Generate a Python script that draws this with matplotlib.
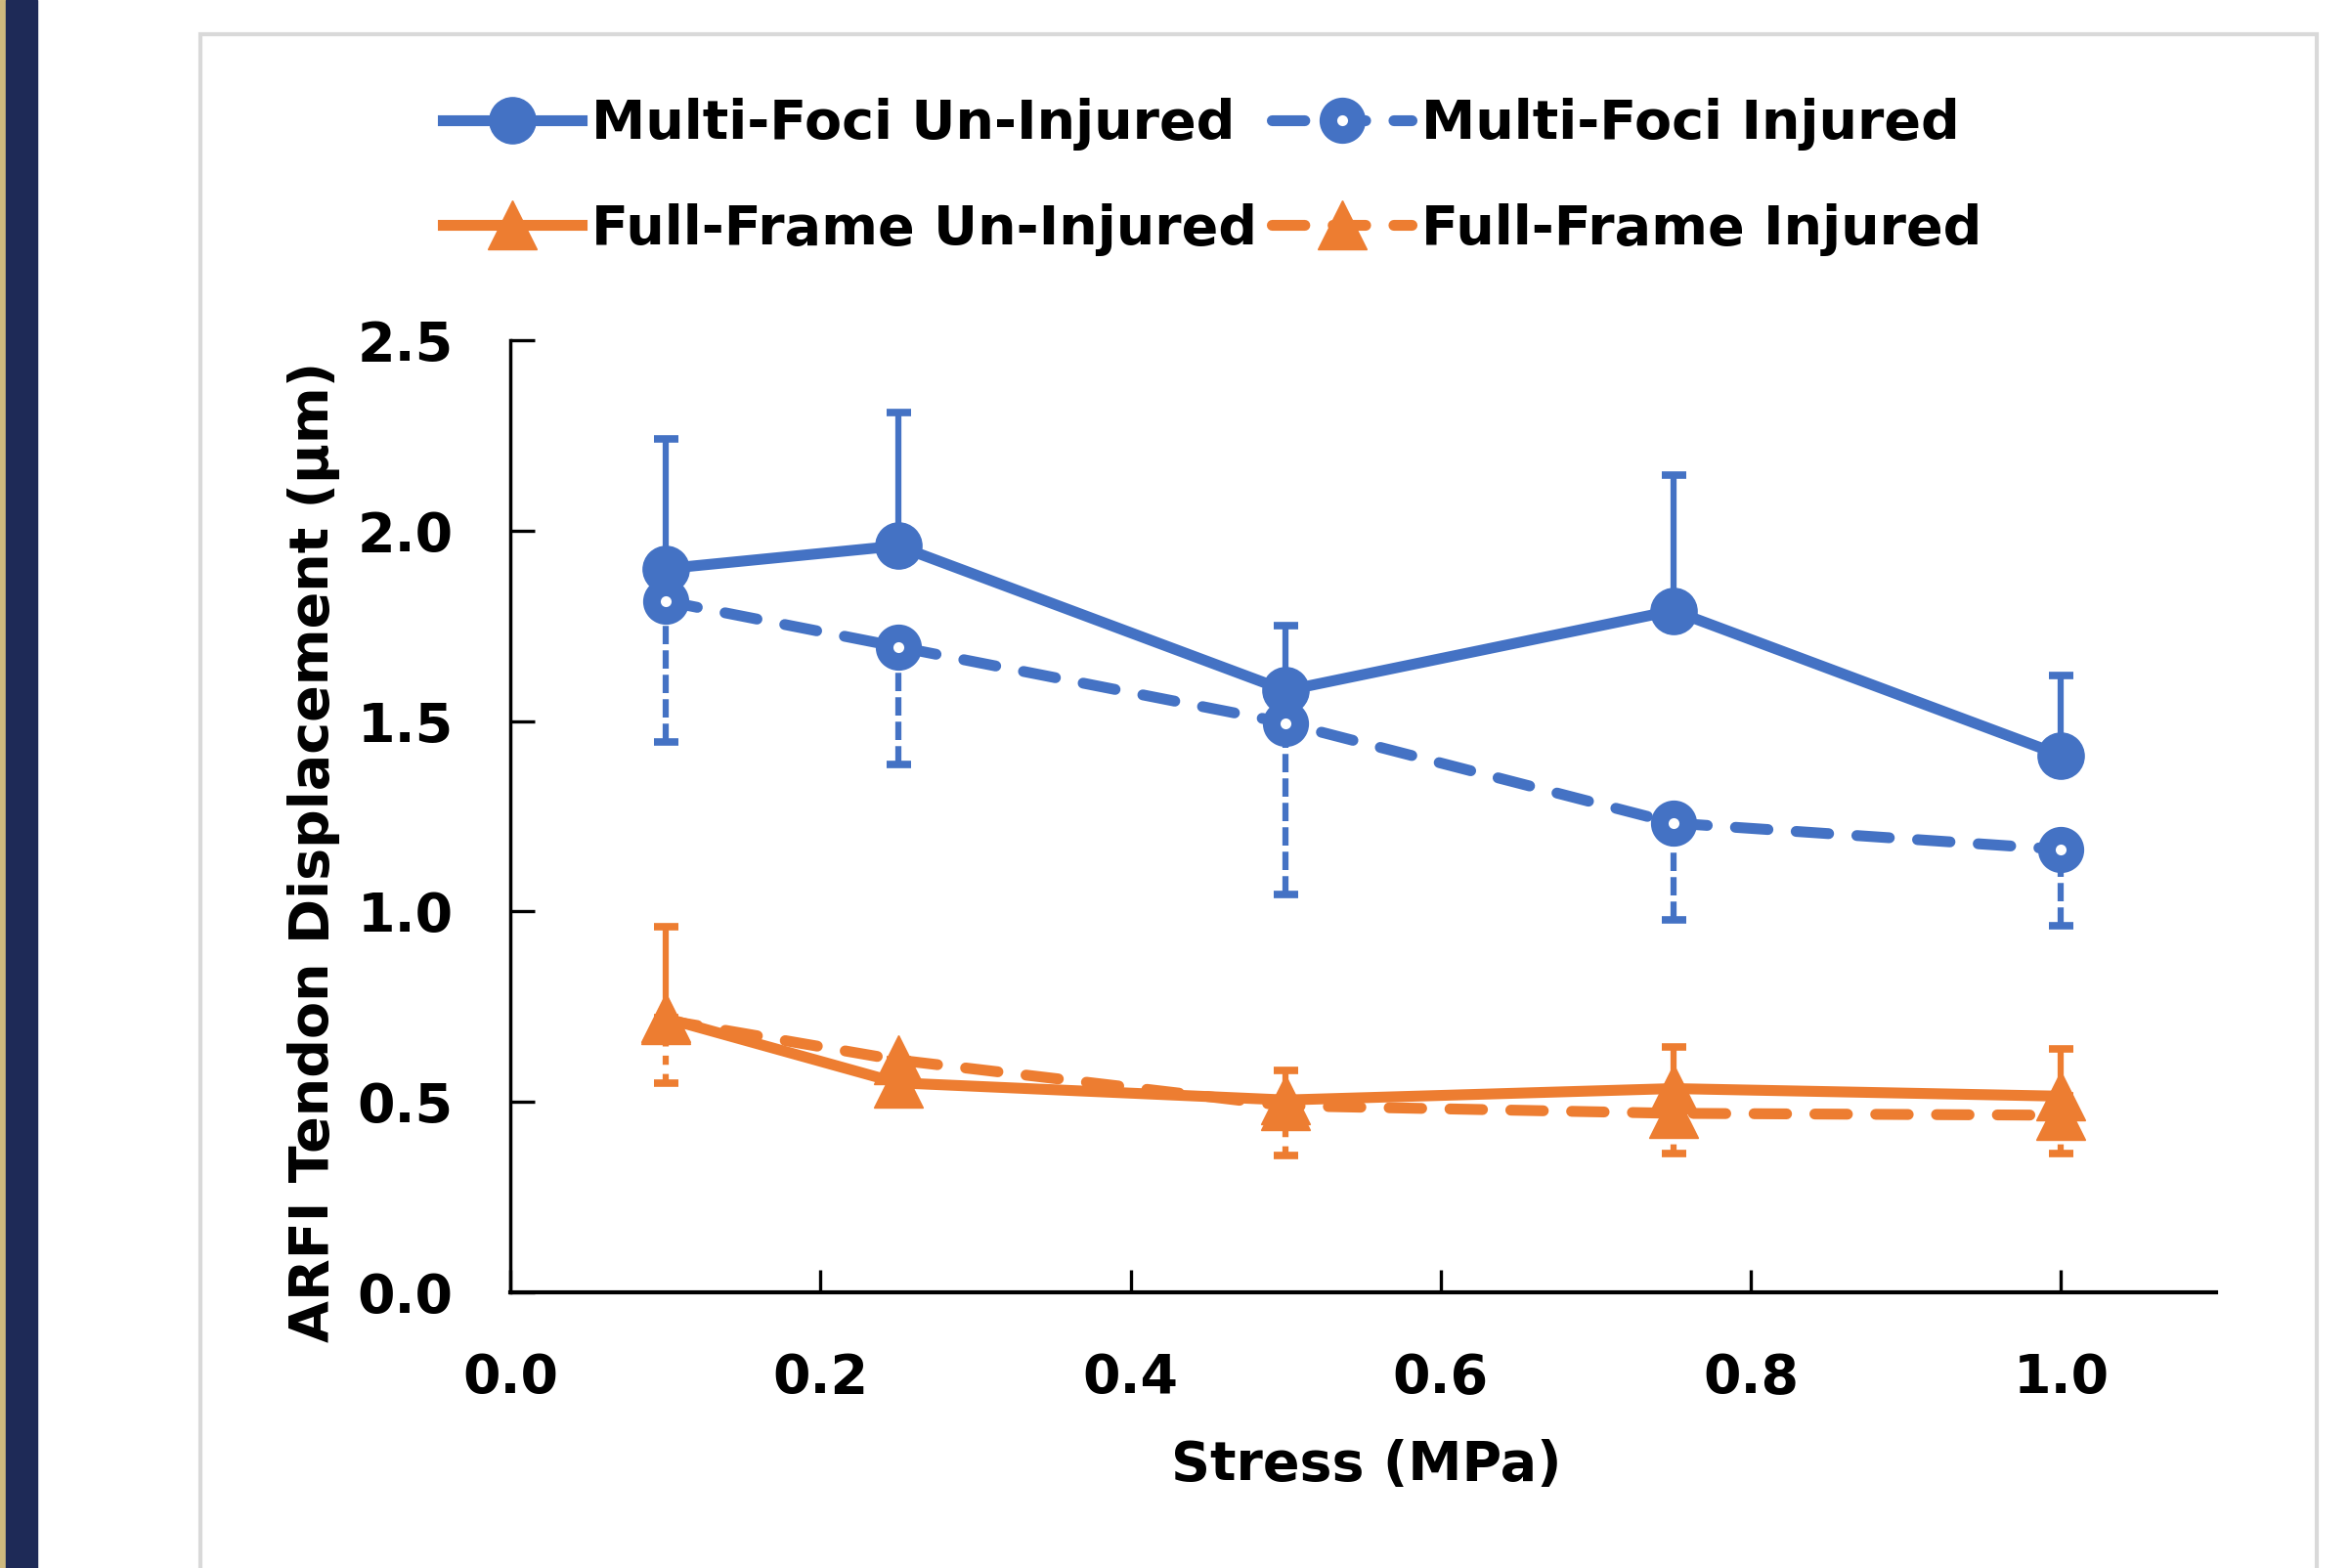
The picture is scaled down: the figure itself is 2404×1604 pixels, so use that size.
# ARFI tendon displacement vs stress, one-sided error bars

import matplotlib.pyplot as plt
from matplotlib.patches import Rectangle
from matplotlib.ticker import FormatStrFormatter

plt.rcParams['font.family'] = ['DejaVu Sans']
plt.rcParams['font.weight'] = 'bold'

stress = [0.1, 0.25, 0.5, 0.75, 1.0]

mf_un = [1.90, 1.96, 1.58, 1.79, 1.41]
mf_un_err = [0.34, 0.35, 0.17, 0.355, 0.21]
mf_inj = [1.815, 1.695, 1.495, 1.232, 1.163]
mf_inj_err = [0.37, 0.31, 0.45, 0.255, 0.20]
ff_un = [0.72, 0.55, 0.505, 0.535, 0.515]
ff_un_err = [0.24, 0.03, 0.078, 0.11, 0.124]
ff_inj = [0.715, 0.61, 0.49, 0.47, 0.465]
ff_inj_err = [0.166, 0.03, 0.13, 0.106, 0.10]

labels = ['Multi-Foci Un-Injured', 'Multi-Foci Injured',
          'Full-Frame Un-Injured', 'Full-Frame Injured']

blue = '#4472C4'
orange = '#ED7D31'
fs = 40
lw = 8

fig = plt.figure(figsize=(24.04, 16.04), dpi=100)
W, H = 2404, 1604

# page decoration: side stripes and light frame
fig.patches.append(Rectangle((0, 0), 6 / W, 1, transform=fig.transFigure,
                             color='#CEB97E', zorder=0))
fig.patches.append(Rectangle((6 / W, 0), 32 / W, 1, transform=fig.transFigure,
                             color='#1E2A57', zorder=0))
fig.patches.append(Rectangle((205 / W, -0.05), (2370 - 205) / W,
                             1.05 - 35 / H, transform=fig.transFigure,
                             fill=False, edgecolor='#D9D9D9', linewidth=3,
                             zorder=0))

ax = fig.add_axes([522 / W, (H - 1322) / H, 1745 / W, 974 / H])

zeros = [0] * len(stress)

# error bars first (one-sided), markers/lines drawn on top
ax.errorbar(stress, mf_un, yerr=[zeros, mf_un_err], fmt='none',
            ecolor=blue, elinewidth=4.5, capsize=9, capthick=5.5, zorder=2)
eb = ax.errorbar(stress, mf_inj, yerr=[mf_inj_err, zeros], fmt='none',
                 ecolor=blue, elinewidth=4.5, capsize=9, capthick=5.5,
                 zorder=2)
eb[2][0].set_linestyle((0, (3, 1)))
ax.errorbar(stress, ff_un, yerr=[zeros, ff_un_err], fmt='none',
            ecolor=orange, elinewidth=4.5, capsize=9, capthick=5.5, zorder=2)
eb = ax.errorbar(stress, ff_inj, yerr=[ff_inj_err, zeros], fmt='none',
                 ecolor=orange, elinewidth=4.5, capsize=9, capthick=5.5,
                 zorder=2)
eb[2][0].set_linestyle((0, (1.5, 1.5)))

dash = (3.0, 2.6)
h1, = ax.plot(stress, mf_inj, color=blue, linewidth=lw, dashes=dash,
              dash_capstyle='round', marker='o', markersize=21,
              markerfacecolor='white', markeredgecolor=blue,
              markeredgewidth=13, zorder=3, label=labels[1])
h0, = ax.plot(stress, mf_un, color=blue, linewidth=lw, marker='o',
              markersize=34, zorder=4, label=labels[0])
h2, = ax.plot(stress, ff_un, color=orange, linewidth=lw, marker='^',
              markersize=36, zorder=3, label=labels[2])
h3, = ax.plot(stress, ff_inj, color=orange, linewidth=lw, dashes=dash,
              dash_capstyle='round', marker='^', markersize=36,
              zorder=4, label=labels[3])

ax.set_xlim(0, 1.1)
ax.set_ylim(0, 2.5)
ax.set_xticks([0.0, 0.2, 0.4, 0.6, 0.8, 1.0])
ax.set_yticks([0.0, 0.5, 1.0, 1.5, 2.0, 2.5])
ax.xaxis.set_major_formatter(FormatStrFormatter('%.1f'))
ax.yaxis.set_major_formatter(FormatStrFormatter('%.1f'))

for s in ['top', 'right']:
    ax.spines[s].set_visible(False)
ax.spines['left'].set_linewidth(2.5)
ax.spines['bottom'].set_linewidth(3)
ax.tick_params(axis='x', direction='in', length=16.5, width=2.4,
               pad=44, labelsize=fs)
ax.tick_params(axis='y', direction='in', length=18, width=2.4,
               pad=42, labelsize=fs)
for t in ax.get_xticklabels() + ax.get_yticklabels():
    t.set_fontweight('bold')

ax.set_xlabel('Stress (MPa)', fontsize=fs, fontweight='bold')
ax.set_ylabel('ARFI Tendon Displacement (μm)', fontsize=fs,
              fontweight='bold')
ax.xaxis.set_label_coords(0.502, -0.154)
ax.yaxis.set_label_coords(-0.100, 0.463)

fig.legend([h0, h2, h1, h3], [labels[0], labels[2], labels[1], labels[3]],
           ncol=2, loc='center', bbox_to_anchor=(1240 / W, 1 - 181 / H),
           frameon=False, prop={'weight': 'bold', 'size': fs},
           handlelength=2.57, handletextpad=0.18, columnspacing=0.27,
           labelspacing=0.97, numpoints=1, borderpad=0)

fig.savefig('out.png', dpi=100, facecolor='white')
